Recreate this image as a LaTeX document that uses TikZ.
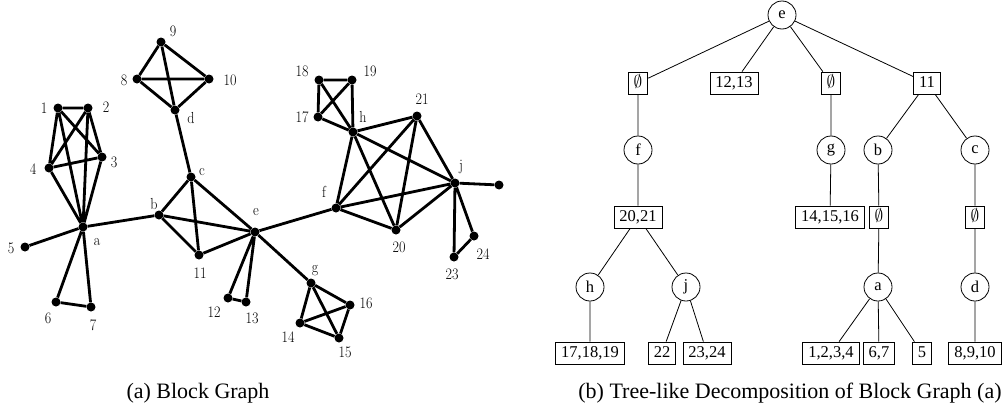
\documentclass[tikz,border=0pt]{standalone}
\usepackage{fontspec}
\usepackage{graphicx}
\newfontfamily\tnr{Liberation Serif}
\usepackage{tikz}
\newcommand\vlab[1]{\scalebox{0.88}[1]{#1}}

\begin{document}
\begin{tikzpicture}[x=1pt,y=-1pt,
  vtx/.style={circle,fill=black,inner sep=0pt,minimum size=9pt},
  lbl/.style={inner sep=0pt,font=\fontsize{16}{18}\selectfont},
  blk/.style={line width=2.8pt,line join=round},
  bag/.style={circle,draw,line width=0.8pt,minimum size=28pt,inner sep=0pt,font=\tnr\fontsize{16.5}{18}\selectfont},
  sep/.style={rectangle,draw,line width=0.8pt,inner xsep=5.5pt,inner ysep=3pt,text height=12.5pt,text depth=3.5pt,font=\tnr\fontsize{16.5}{18}\selectfont},
  tline/.style={line width=0.8pt},
  captext/.style={font=\tnr\fontsize{22}{26}\selectfont}]
\useasboundingbox (0,0) rectangle (1003,415);
% (a) block graph
\node[vtx] (v1) at (58,108) {};   \node[lbl] (l1) at (44,108) {\vlab{1}};
\node[vtx] (v2) at (88,108) {};   \node[lbl] (l2) at (106,107) {\vlab{2}};
\node[vtx] (v3) at (102,157) {};  \node[lbl] (l3) at (114,162) {\vlab{3}};
\node[vtx] (v4) at (49,168) {};   \node[lbl] (l4) at (33,169) {\vlab{4}};
\node[vtx] (v5) at (25,247) {};   \node[lbl] (l5) at (11,248) {\vlab{5}};
\node[vtx] (v6) at (56,302) {};   \node[lbl] (l6) at (48,318) {\vlab{6}};
\node[vtx] (v7) at (91,307) {};   \node[lbl] (l7) at (93,325) {\vlab{7}};
\node[vtx] (v8) at (137,79) {};   \node[lbl] (l8) at (124,80) {\vlab{8}};
\node[vtx] (v9) at (161,42) {};   \node[lbl] (l9) at (173,31) {\vlab{9}};
\node[vtx] (v10) at (209,79) {};  \node[lbl] (l10) at (230,80) {\vlab{10}};
\node[vtx] (v11) at (199,255) {}; \node[lbl] (l11) at (200,273) {\vlab{11}};
\node[vtx] (v12) at (228,298) {}; \node[lbl] (l12) at (214,312) {\vlab{12}};
\node[vtx] (v13) at (246,302) {}; \node[lbl] (l13) at (252,318) {\vlab{13}};
\node[vtx] (v14) at (300,323) {}; \node[lbl] (l14) at (288,337) {\vlab{14}};
\node[vtx] (v15) at (339,338) {}; \node[lbl] (l15) at (345,352) {\vlab{15}};
\node[vtx] (v16) at (350,305) {}; \node[lbl] (l16) at (366,303) {\vlab{16}};
\node[vtx] (v17) at (318,117) {}; \node[lbl] (l17) at (302,117) {\vlab{17}};
\node[vtx] (v18) at (319,80) {};  \node[lbl] (l18) at (302,71) {\vlab{18}};
\node[vtx] (v19) at (352,80) {};  \node[lbl] (l19) at (370,71) {\vlab{19}};
\node[vtx] (v20) at (396,230) {}; \node[lbl] (l20) at (399,247) {\vlab{20}};
\node[vtx] (v21) at (417,116) {}; \node[lbl] (l21) at (422,99) {\vlab{21}};
\node[vtx] (v22) at (499,185) {};
\node[vtx] (v23) at (454,257) {}; \node[lbl] (l23) at (452,274) {\vlab{23}};
\node[vtx] (v24) at (474,236) {}; \node[lbl] (l24) at (483,254) {\vlab{24}};
\node[vtx] (va) at (83,227) {};   \node[lbl] (la) at (97,242) {\vlab{a}};
\node[vtx] (vb) at (159,215) {};  \node[lbl] (lb) at (154,204) {\vlab{b}};
\node[vtx] (vc) at (191,177) {};  \node[lbl] (lc) at (202,172) {\vlab{c}};
\node[vtx] (vd) at (175,110) {};  \node[lbl] (ld) at (191,118) {\vlab{d}};
\node[vtx] (ve) at (255,232) {};  \node[lbl] (le) at (256,212) {\vlab{e}};
\node[vtx] (vf) at (336,208) {};  \node[lbl] (lf) at (324,192) {\vlab{f}};
\node[vtx] (vg) at (311,283) {};  \node[lbl] (lg) at (315,271) {\vlab{g}};
\node[vtx] (vh) at (353,132) {};  \node[lbl] (lh) at (363,117) {\vlab{h}};
\node[vtx] (vj) at (455,183) {};  \node[lbl] (lj) at (461,167) {\vlab{j}};
\draw[blk] (v1) -- (v2) -- (v3) -- (v4) -- (v1) -- (v3) (v2) -- (v4)
  (va) -- (v1) (va) -- (v2) (va) -- (v3) (va) -- (v4);
\draw[blk] (va) -- (v5);
\draw[blk] (va) -- (v6) -- (v7) -- (va);
\draw[blk] (va) -- (vb);
\draw[blk] (vb) -- (vc) -- (ve) -- (v11) -- (vb) -- (ve) (vc) -- (v11);
\draw[blk] (vc) -- (vd);
\draw[blk] (vd) -- (v8) -- (v9) -- (v10) -- (vd) -- (v9) (v8) -- (v10);
\draw[blk] (ve) -- (v12) -- (v13) -- (ve);
\draw[blk] (ve) -- (vg);
\draw[blk] (vg) -- (v14) -- (v15) -- (v16) -- (vg) -- (v15) (v14) -- (v16);
\draw[blk] (ve) -- (vf);
\draw[blk] (vf) -- (vh) -- (v21) -- (vj) -- (v20) -- (vf) -- (v21) (vf) -- (vj)
  (vh) -- (vj) (vh) -- (v20) (v21) -- (v20);
\draw[blk] (vh) -- (v17) -- (v18) -- (v19) -- (vh) -- (v18) (v17) -- (v19);
\draw[blk] (vj) -- (v22);
\draw[blk] (vj) -- (v23) -- (v24) -- (vj);
% (b) tree-like decomposition
\node[bag] (te) at (782,15) {e};
\node[sep] (s1) at (638,83) {$\emptyset$};
\node[sep] (s2) at (734,83) {12,13};
\node[sep] (s3) at (831,83) {$\emptyset$};
\node[sep] (s4) at (927,83) {11};
\node[bag] (tf) at (638,150) {f};
\node[bag] (tg) at (831,150) {g};
\node[bag] (tb) at (878,150) {b};
\node[bag] (tc) at (975,150) {c};
\node[sep] (s5) at (638,217) {20,21};
\node[sep] (s6) at (830,217) {14,15,16};
\node[sep] (s7) at (879,217) {$\emptyset$};
\node[sep] (s8) at (975,217) {$\emptyset$};
\node[bag] (th) at (590,287) {h};
\node[bag] (tj) at (686,287) {j};
\node[bag] (ta) at (878,287) {a};
\node[bag] (td) at (975,287) {d};
\node[sep] (s9) at (590,353) {17,18,19};
\node[sep] (s10) at (662,353) {22};
\node[sep] (s11) at (707,353) {23,24};
\node[sep] (s12) at (831,353) {1,2,3,4};
\node[sep] (s13) at (879,353) {6,7};
\node[sep] (s14) at (922,353) {5};
\node[sep] (s15) at (975,353) {8,9,10};
\draw[tline] (te) -- (s1) (te) -- (s2) (te) -- (s3) (te) -- (s4);
\draw[tline] (s1) -- (tf) -- (s5) (s5) -- (th) -- (s9)
  (s5) -- (tj) (tj) -- (s10) (tj) -- (s11);
\draw[tline] (s3) -- (tg) -- (s6);
\draw[tline] (s4) -- (tb) -- (s7) -- (ta) (ta) -- (s12) (ta) -- (s13) (ta) -- (s14);
\draw[tline] (s4) -- (tc) -- (s8) -- (td) -- (s15);
% captions
\node[captext] (capa) at (198,393) {(a) Block Graph};
\node[captext] (capb) at (790,393) {(b) Tree-like Decomposition of Block Graph (a)};
\end{tikzpicture}
\end{document}
